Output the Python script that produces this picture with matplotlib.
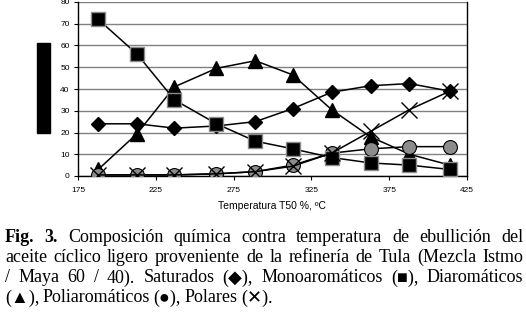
import matplotlib
matplotlib.use("Agg")
from matplotlib import pyplot as plt
from matplotlib.patches import Rectangle

# chart data
temps = [188, 213, 237, 264, 289, 313, 338, 363, 388, 414]
saturados = [24, 24, 22, 23, 25, 31, 38.5, 41.5, 42.5, 39]
monoarom = [72, 56, 35, 24, 16, 12.5, 8.5, 6, 5, 3]
diarom = [3, 19.5, 41, 49.5, 53, 46.5, 30.5, 18, 10, 5]
poliarom = [0.5, 0.5, 0.5, 1, 2, 5, 10.5, 12.5, 13.5, 13.5]
polares = [0.5, 0.5, 0.5, 1, 2, 4.5, 10.5, 20.5, 30.5, 39]

xticks = [175, 225, 275, 325, 375, 425]
yticks = [0, 10, 20, 30, 40, 50, 60, 70, 80]
xlabel = "Temperatura T50 %, ºC"

caption = [
    [("Fig.", True), ("3.", True), ("Composición", False), ("química", False), ("contra", False),
     ("temperatura", False), ("de", False), ("ebullición", False), ("del", False)],
    [("aceite", False), ("cíclico", False), ("ligero", False), ("proveniente", False), ("de", False),
     ("la", False), ("refinería", False), ("de", False), ("Tula", False), ("(Mezcla", False), ("Istmo", False)],
    [("/", False), ("Maya", False), ("60", False), ("/", False), ("40).", False), ("Saturados", False),
     ("(◆),", False), ("Monoaromáticos", False), ("(■),", False), ("Diaromáticos", False)],
    [("(▲),", False), ("Poliaromáticos", False), ("(●),", False), ("Polares", False), ("(✕).", False)],
]

fig = plt.figure(figsize=(5.26, 3.12), dpi=100)
ax = fig.add_axes([78 / 526, 1 - 176 / 312, 389 / 526, 174 / 312])

ax.plot(temps, saturados, color="black", lw=1.1, marker="D", ms=7.6,
        mfc="black", mec="black", zorder=3)
ax.plot(temps, diarom, color="black", lw=1.1, marker="^", ms=10,
        mfc="black", mec="black", zorder=4)
ax.plot(temps, poliarom, color="black", lw=1.1, marker="o", ms=10,
        mfc="#8c8c8c", mec="black", mew=0.8, zorder=5)
ax.plot(temps, monoarom, color="black", lw=1.1, marker="s", ms=10,
        mfc="black", mec="#8c8c8c", mew=1.0, zorder=6)
ax.plot(temps, polares, color="black", lw=1.1, marker="x", ms=11,
        mec="black", mew=1.0, zorder=7)

ax.set_xlim(175, 425)
ax.set_ylim(0, 80)
ax.set_xticks(xticks)
ax.set_yticks(yticks)
ax.yaxis.grid(True, color="#808080", lw=1.0)
ax.set_axisbelow(True)
for s in ["left", "bottom", "right"]:
    ax.spines[s].set_color("black")
    ax.spines[s].set_linewidth(1.0)
ax.spines["top"].set_visible(False)
ax.tick_params(axis="both", direction="out", length=3, width=0.8, labelsize=6)
ax.tick_params(axis="x", pad=5)
ax.tick_params(axis="y", pad=3)
for lab in ax.get_xticklabels() + ax.get_yticklabels():
    lab.set_family("Liberation Sans")
ax.set_xlabel(xlabel, fontsize=7.5, family="Liberation Sans", labelpad=5)

# redacted y-axis label block
fig.add_artist(Rectangle((37 / 526, 1 - 133 / 312), 13 / 526, 90 / 312,
                         transform=fig.transFigure, color="black"))

# justified caption
renderer = fig.canvas.get_renderer()
left, right = 5 / 526, 523 / 526
line_y = [237, 257, 278, 298]
for i, words in enumerate(caption):
    y = 1 - line_y[i] / 312
    texts = []
    for w, bold in words:
        t = fig.text(left, y, w, fontsize=13, va="center", ha="left",
                     family=["Liberation Serif", "DejaVu Sans"],
                     weight="bold" if bold else "normal")
        texts.append(t)
    widths = [t.get_window_extent(renderer).width / 526 for t in texts]
    if i < len(caption) - 1:
        gap = (right - left - sum(widths)) / (len(texts) - 1)
    else:
        gap = 3.5 / 526
    x = left
    for t, w in zip(texts, widths):
        t.set_x(x)
        x += w + gap

fig.savefig("out.png", dpi=100)
